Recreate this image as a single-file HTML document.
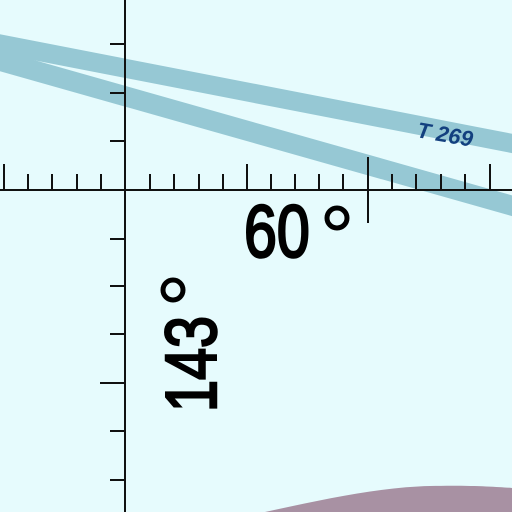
<!DOCTYPE html>
<html><head><meta charset="utf-8"><style>
html,body{margin:0;padding:0;background:#e6fbfd}
svg{display:block}
</style></head><body>
<svg width="512" height="512" viewBox="0 0 512 512">
<rect width="512" height="512" fill="#e6fbfd"/>
<path d="M265,512 C320,500 380,487 430,486 C470,485 500,487 512,488 L512,512 Z" fill="#a891a3"/>
<line x1="-10" y1="42" x2="520" y2="145" stroke="#96c8d4" stroke-width="19"/>
<line x1="-10" y1="58" x2="520" y2="208" stroke="#96c8d4" stroke-width="20"/>
<g stroke="#111" stroke-width="2" fill="none" id="ticks">
<line x1="0" y1="190" x2="512" y2="190"/>
<line x1="125" y1="0" x2="125" y2="512"/>
</g>
<text x="0" y="0" font-family="Liberation Sans, sans-serif" font-size="74" fill="#000" stroke="#000" stroke-width="2.5" transform="translate(244 257) scale(0.8 1)">60</text>
<circle cx="337" cy="218" r="10" fill="none" stroke="#000" stroke-width="5"/>
<text x="0" y="0" font-family="Liberation Sans, sans-serif" font-size="72" fill="#000" stroke="#000" stroke-width="2.5" transform="translate(216 412) rotate(-90) scale(0.8 1)">143</text>
<circle cx="173" cy="290" r="10" fill="none" stroke="#000" stroke-width="5"/>
<text x="0" y="0" font-family="Liberation Sans, sans-serif" font-size="22" font-style="italic" font-weight="bold" fill="#13407f" transform="translate(416 137) rotate(10)">T 269</text>
<script>
const g=document.getElementById('ticks');
const NS='http://www.w3.org/2000/svg';
const hx=[4,28,52,77,101,150,174,199,223,247,271,295,319,343,368,392,416,441,465,490];
hx.forEach(x=>{const l=document.createElementNS(NS,'line');
let top=174,bot=190;if(x===4||x===247||x===490)top=164;if(x===368){top=157;bot=223;}
l.setAttribute('x1',x);l.setAttribute('x2',x);l.setAttribute('y1',top);l.setAttribute('y2',bot);


g.appendChild(l);});
const vy=[44,93,141,239,286,334,383,431,480];
vy.forEach(y=>{const l=document.createElementNS(NS,'line');
l.setAttribute('x1',y===383?100:110);l.setAttribute('x2',125);l.setAttribute('y1',y);l.setAttribute('y2',y);


g.appendChild(l);});
</script>
</svg>
</body></html>
